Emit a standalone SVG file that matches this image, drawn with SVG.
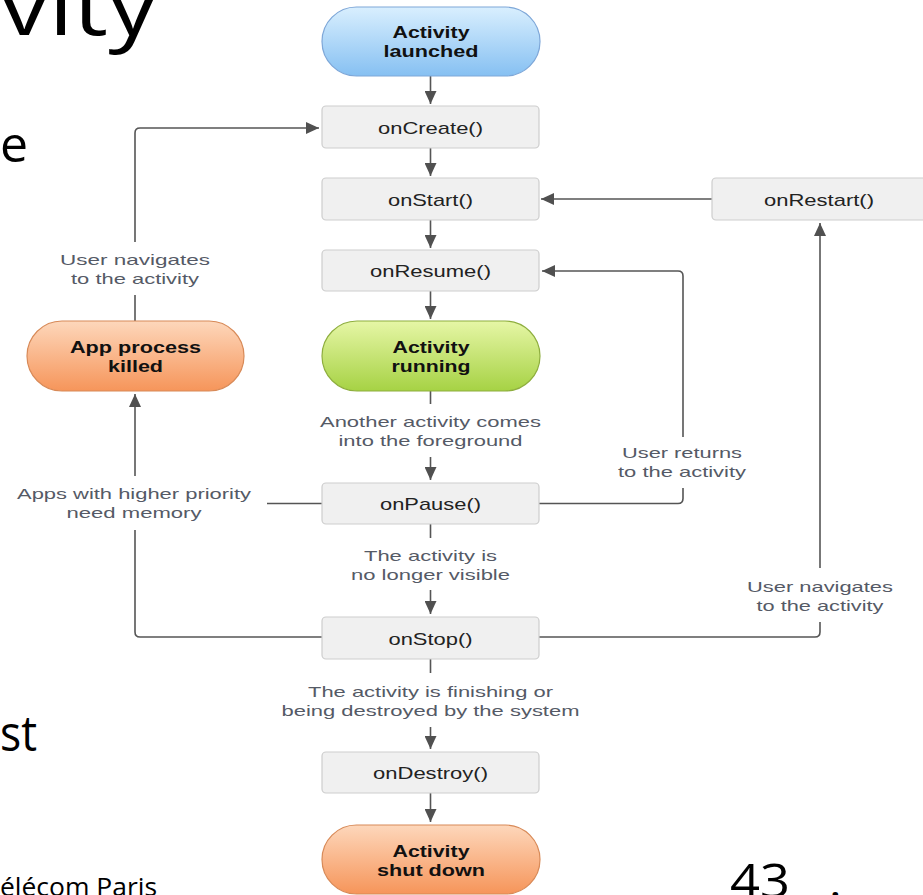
<svg xmlns="http://www.w3.org/2000/svg" width="923" height="895" viewBox="0 0 923 895">
  <style>
    .slide { font-family: "Open Sans", "Noto Sans", sans-serif; fill: #000; }
    .box { fill: #f0f0f0; stroke: #cdcdcd; stroke-width: 1.2; }
    .lbl { font-family: "Liberation Sans", Arial, sans-serif; font-size: 17px; fill: #222; text-anchor: middle; }
    .bold { font-family: "Liberation Sans", Arial, sans-serif; font-size: 17px; font-weight: bold; fill: #111; text-anchor: middle; }
    .note { font-family: "Liberation Sans", Arial, sans-serif; font-size: 15px; fill: #555a66; text-anchor: middle; }
    .wire { fill: none; stroke: #555; stroke-width: 1.6; }
  </style>
  <defs>
    <marker id="head" markerUnits="userSpaceOnUse" markerWidth="14" markerHeight="12" refX="13" refY="6" orient="auto">
      <path d="M0,0 L13,6 L0,12 z" fill="#505050"/>
    </marker>
    <linearGradient id="blue" x1="0" y1="0" x2="0" y2="1">
      <stop offset="0" stop-color="#d9effe"/>
      <stop offset="1" stop-color="#86c0f2"/>
    </linearGradient>
    <linearGradient id="green" x1="0" y1="0" x2="0" y2="1">
      <stop offset="0" stop-color="#e6f6a6"/>
      <stop offset="1" stop-color="#a6d244"/>
    </linearGradient>
    <linearGradient id="orange" x1="0" y1="0" x2="0" y2="1">
      <stop offset="0" stop-color="#fdd7bb"/>
      <stop offset="1" stop-color="#f6955a"/>
    </linearGradient>
  </defs>

  <rect width="923" height="895" fill="#fff"/>

  <!-- slide text around the figure -->
  <text class="slide" x="0" y="35" font-size="82" textLength="157" lengthAdjust="spacingAndGlyphs">vity</text>
  <text class="slide" x="0" y="162" font-size="50">e</text>
  <text class="slide" x="0" y="751" font-size="50" textLength="37" lengthAdjust="spacingAndGlyphs">st</text>
  <text class="slide" x="0" y="896" font-size="26" textLength="157" lengthAdjust="spacingAndGlyphs">élécom Paris</text>
  <text class="slide" x="730" y="898" font-size="48" textLength="60" lengthAdjust="spacingAndGlyphs">43</text>
  <text class="slide" x="829" y="898" font-size="48">.</text>

  <!-- connectors -->
  <g id="connectors">
    <path class="wire" d="M430.5,76 V104" marker-end="url(#head)"/>
    <path class="wire" d="M430.5,148 V176" marker-end="url(#head)"/>
    <path class="wire" d="M430.5,220 V248" marker-end="url(#head)"/>
    <path class="wire" d="M430.5,291 V319" marker-end="url(#head)"/>
    <path class="wire" d="M430.5,391 V404"/>
    <path class="wire" d="M430.5,457 V480" marker-end="url(#head)"/>
    <path class="wire" d="M430.5,524 V538"/>
    <path class="wire" d="M430.5,590 V614" marker-end="url(#head)"/>
    <path class="wire" d="M430.5,659 V673"/>
    <path class="wire" d="M430.5,727 V749" marker-end="url(#head)"/>
    <path class="wire" d="M430.5,793 V822" marker-end="url(#head)"/>
    <!-- onStop to App process killed -->
    <path class="wire" d="M322,637 H140 Q135,637 135,632 V530"/>
    <path class="wire" d="M135,476 V394" marker-end="url(#head)"/>
    <!-- onPause to memory note -->
    <path class="wire" d="M322,503.5 H267"/>
    <!-- App process killed back to onCreate -->
    <path class="wire" d="M135,321 V295"/>
    <path class="wire" d="M135,242 V133 Q135,128 140,128 H319" marker-end="url(#head)"/>
    <!-- onRestart to onStart -->
    <path class="wire" d="M712,199 H541" marker-end="url(#head)"/>
    <!-- onStop to onRestart -->
    <path class="wire" d="M539,637 H815 Q820,637 820,632 V622"/>
    <path class="wire" d="M820,568 V223" marker-end="url(#head)"/>
    <!-- onPause to onResume -->
    <path class="wire" d="M539,503.5 H678 Q683,503.5 683,498.5 V488"/>
    <path class="wire" d="M683,437 V276 Q683,271 678,271 H542" marker-end="url(#head)"/>
  </g>

  <!-- transition notes -->
  <g id="notes">
    <text class="note" x="430.5" y="427" textLength="221" lengthAdjust="spacingAndGlyphs">Another activity comes</text>
    <text class="note" x="430.5" y="446" textLength="184" lengthAdjust="spacingAndGlyphs">into the foreground</text>
    <text class="note" x="430.5" y="561" textLength="133" lengthAdjust="spacingAndGlyphs">The activity is</text>
    <text class="note" x="430.5" y="580" textLength="159" lengthAdjust="spacingAndGlyphs">no longer visible</text>
    <text class="note" x="430.5" y="697" textLength="245" lengthAdjust="spacingAndGlyphs">The activity is finishing or</text>
    <text class="note" x="430.5" y="716" textLength="298" lengthAdjust="spacingAndGlyphs">being destroyed by the system</text>
    <text class="note" x="135" y="265" textLength="150" lengthAdjust="spacingAndGlyphs">User navigates</text>
    <text class="note" x="135" y="284" textLength="128" lengthAdjust="spacingAndGlyphs">to the activity</text>
    <text class="note" x="134" y="499" textLength="234" lengthAdjust="spacingAndGlyphs">Apps with higher priority</text>
    <text class="note" x="134" y="518" textLength="135" lengthAdjust="spacingAndGlyphs">need memory</text>
    <text class="note" x="682" y="458" textLength="120" lengthAdjust="spacingAndGlyphs">User returns</text>
    <text class="note" x="682" y="477" textLength="128" lengthAdjust="spacingAndGlyphs">to the activity</text>
    <text class="note" x="820" y="592" textLength="146" lengthAdjust="spacingAndGlyphs">User navigates</text>
    <text class="note" x="820" y="611" textLength="127" lengthAdjust="spacingAndGlyphs">to the activity</text>
  </g>

  <!-- states -->
  <g id="launched">
    <rect x="322" y="7" width="218" height="69" rx="34.5" fill="url(#blue)" stroke="#7ea7d8" stroke-width="1.2"/>
    <text class="bold" x="431" y="38" textLength="77" lengthAdjust="spacingAndGlyphs">Activity</text>
    <text class="bold" x="431" y="57" textLength="95" lengthAdjust="spacingAndGlyphs">launched</text>
  </g>
  <g id="onCreate">
    <rect class="box" x="322" y="106" width="217" height="42" rx="4"/>
    <text class="lbl" x="430.5" y="134" textLength="105" lengthAdjust="spacingAndGlyphs">onCreate()</text>
  </g>
  <g id="onStart">
    <rect class="box" x="322" y="178" width="217" height="42" rx="4"/>
    <text class="lbl" x="430.5" y="206" textLength="85" lengthAdjust="spacingAndGlyphs">onStart()</text>
  </g>
  <g id="onRestart">
    <rect class="box" x="712" y="178" width="217" height="42" rx="4"/>
    <text class="lbl" x="819" y="206" textLength="110" lengthAdjust="spacingAndGlyphs">onRestart()</text>
  </g>
  <g id="onResume">
    <rect class="box" x="322" y="250" width="217" height="41" rx="4"/>
    <text class="lbl" x="430.5" y="277" textLength="121" lengthAdjust="spacingAndGlyphs">onResume()</text>
  </g>
  <g id="running">
    <rect x="322" y="321" width="218" height="70" rx="35" fill="url(#green)" stroke="#8eae3e" stroke-width="1.2"/>
    <text class="bold" x="431" y="353" textLength="77" lengthAdjust="spacingAndGlyphs">Activity</text>
    <text class="bold" x="431" y="372" textLength="79" lengthAdjust="spacingAndGlyphs">running</text>
  </g>
  <g id="killed">
    <rect x="27" y="321" width="217" height="70" rx="35" fill="url(#orange)" stroke="#d88a58" stroke-width="1.2"/>
    <text class="bold" x="135.5" y="353" textLength="131" lengthAdjust="spacingAndGlyphs">App process</text>
    <text class="bold" x="135.5" y="372" textLength="55" lengthAdjust="spacingAndGlyphs">killed</text>
  </g>
  <g id="onPause">
    <rect class="box" x="322" y="483" width="217" height="41" rx="4"/>
    <text class="lbl" x="430.5" y="510" textLength="101" lengthAdjust="spacingAndGlyphs">onPause()</text>
  </g>
  <g id="onStop">
    <rect class="box" x="322" y="617" width="217" height="42" rx="4"/>
    <text class="lbl" x="430.5" y="645" textLength="84" lengthAdjust="spacingAndGlyphs">onStop()</text>
  </g>
  <g id="onDestroy">
    <rect class="box" x="322" y="752" width="217" height="41" rx="4"/>
    <text class="lbl" x="430.5" y="779" textLength="115" lengthAdjust="spacingAndGlyphs">onDestroy()</text>
  </g>
  <g id="shutdown">
    <rect x="322" y="825" width="218" height="69" rx="34.5" fill="url(#orange)" stroke="#d88a58" stroke-width="1.2"/>
    <text class="bold" x="431" y="857" textLength="77" lengthAdjust="spacingAndGlyphs">Activity</text>
    <text class="bold" x="431" y="876" textLength="108" lengthAdjust="spacingAndGlyphs">shut down</text>
  </g>
</svg>
